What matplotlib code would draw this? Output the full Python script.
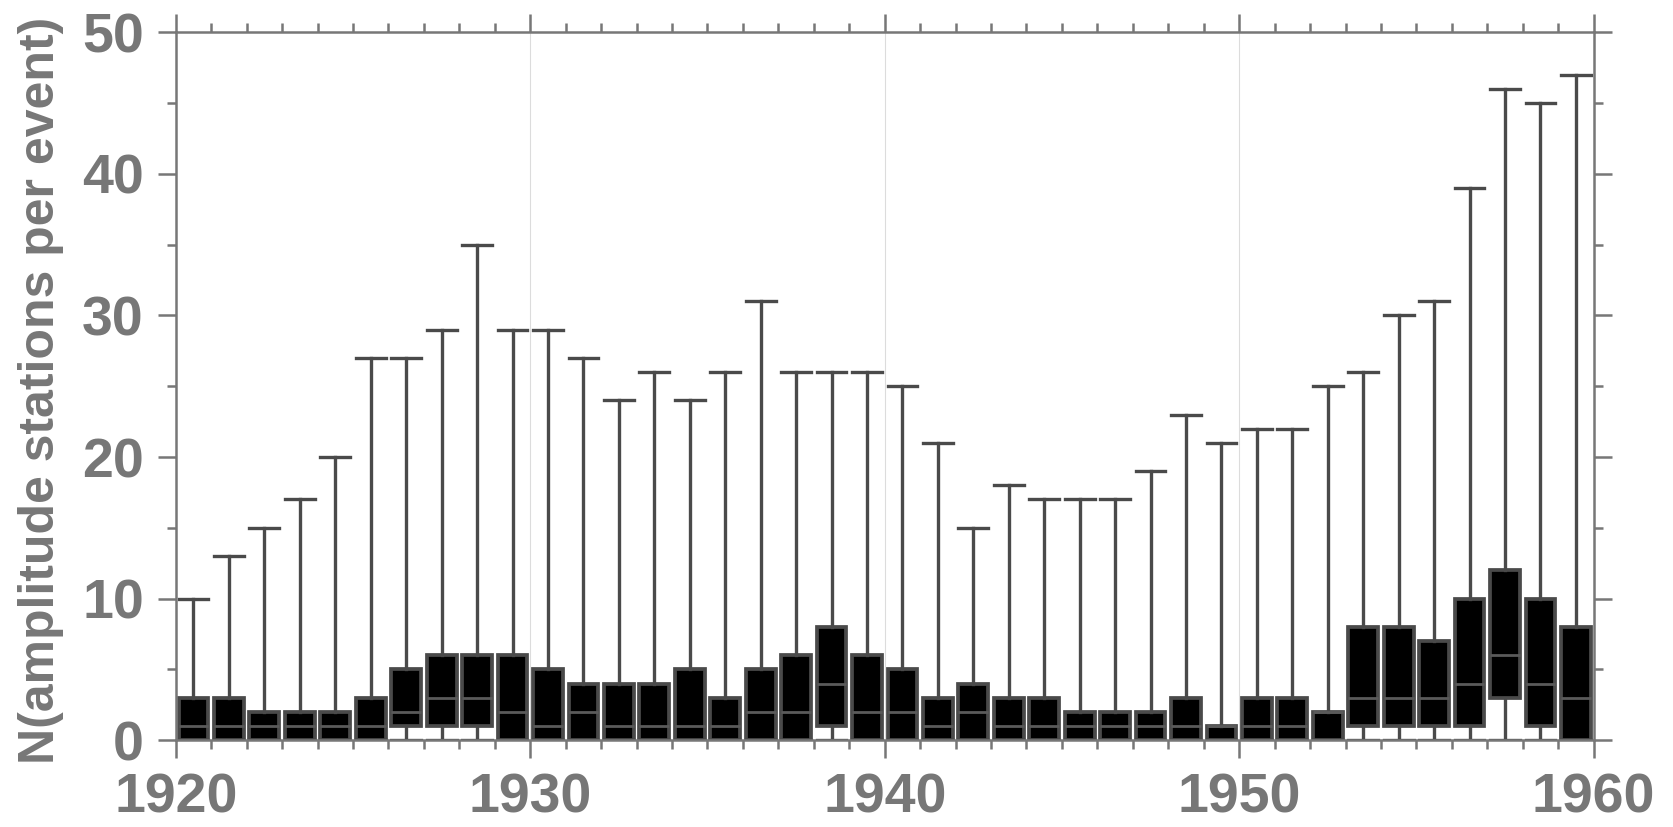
import matplotlib.pyplot as plt
from matplotlib.ticker import MultipleLocator
import numpy as np

# per-year statistics of amplitude stations per event
years = list(range(1920, 1960))
maxima = [10, 13, 15, 17, 20, 27, 27, 29, 35, 29,
          29, 27, 24, 26, 24, 26, 31, 26, 26, 26,
          25, 21, 15, 18, 17, 17, 17, 19, 23, 21,
          22, 22, 25, 26, 30, 31, 39, 46, 45, 47]
q3s = [3, 3, 2, 2, 2, 3, 5, 6, 6, 6,
       5, 4, 4, 4, 5, 3, 5, 6, 8, 6,
       5, 3, 4, 3, 3, 2, 2, 2, 3, 1,
       3, 3, 2, 8, 8, 7, 10, 12, 10, 8]
medians = [1, 1, 1, 1, 1, 1, 2, 3, 3, 2,
           1, 2, 1, 1, 1, 1, 2, 2, 4, 2,
           2, 1, 2, 1, 1, 1, 1, 1, 1, 1,
           1, 1, 2, 3, 3, 3, 4, 6, 4, 3]
q1s = [0, 0, 0, 0, 0, 0, 1, 1, 1, 0,
       0, 0, 0, 0, 0, 0, 0, 0, 1, 0,
       0, 0, 0, 0, 0, 0, 0, 0, 0, 0,
       0, 0, 0, 1, 1, 1, 1, 3, 1, 0]
minima = [0] * 40

GREY = '#777777'
DARK = '#4a4a4a'

stats = []
for mn, a, m, b, mx in zip(minima, q1s, medians, q3s, maxima):
    stats.append({'whislo': mn, 'q1': a, 'med': m, 'q3': b, 'whishi': mx, 'fliers': []})

fig = plt.figure(figsize=(16.74, 8.27), dpi=100)
ax = fig.add_axes([0.105, 0.105, 0.847, 0.856])

ax.bxp(stats, positions=np.array(years) + 0.5, widths=0.84, capwidths=0.84,
       patch_artist=True, showfliers=False,
       boxprops=dict(facecolor='black', edgecolor=DARK, linewidth=2.7),
       whiskerprops=dict(color=DARK, linewidth=2.4),
       capprops=dict(color=DARK, linewidth=2.4),
       medianprops=dict(color='#5a5a5a', linewidth=2.0))

ax.set_xlim(1920, 1960)
ax.set_ylim(0, 50)
ax.xaxis.set_major_locator(MultipleLocator(10))
ax.xaxis.set_minor_locator(MultipleLocator(1))
ax.yaxis.set_major_locator(MultipleLocator(10))
ax.yaxis.set_minor_locator(MultipleLocator(5))
ax.set_xticks([1920, 1930, 1940, 1950, 1960])
ax.set_xticklabels(['1920', '1930', '1940', '1950', '1960'])

ax.grid(axis='x', which='major', color='#dcdcdc', linewidth=0.8)
ax.set_axisbelow(True)

for s in ax.spines.values():
    s.set_color(GREY)
    s.set_linewidth(1.8)

ax.tick_params(which='both', direction='out', top=True, right=True,
               color=GREY, width=1.8)
ax.tick_params(which='major', length=13, pad=10)
ax.tick_params(which='minor', length=6.5)
ax.tick_params(axis='both', which='major', labelsize=40, labelcolor=GREY)
for lab in ax.get_xticklabels() + ax.get_yticklabels():
    lab.set_fontweight('bold')
    lab.set_family(['Liberation Sans', 'DejaVu Sans'])

fig.text(0.0245, 0.528, 'N(amplitude stations per event)', rotation=90,
         ha='center', va='center', fontsize=36, fontweight='bold', color=GREY,
         family=['Liberation Sans', 'DejaVu Sans'])

fig.savefig('out.png', dpi=100)
